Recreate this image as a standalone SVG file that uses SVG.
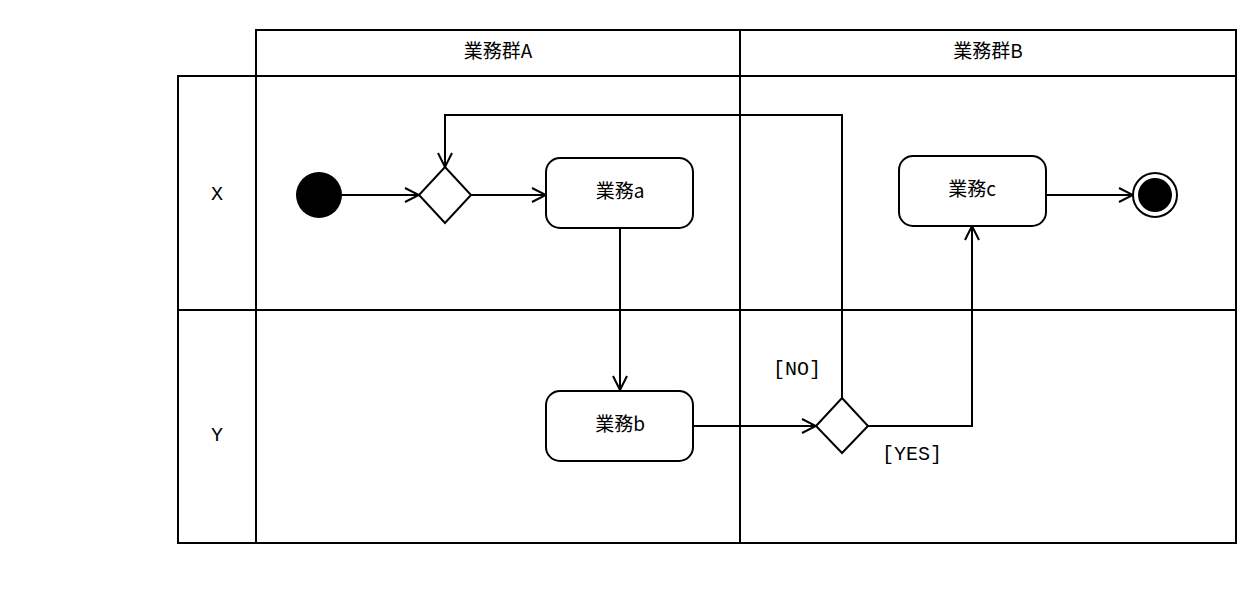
<svg xmlns="http://www.w3.org/2000/svg" width="1248" height="610" viewBox="0 0 1248 610">
<style>
.l{stroke:#000;stroke-width:2;fill:none}
.n{stroke:#000;stroke-width:2;fill:#fff}
.t{font-family:"Noto Sans CJK JP","Liberation Sans",sans-serif;font-size:19px;text-anchor:middle;dominant-baseline:middle;fill:#000}
.m{font-family:"Liberation Mono",monospace;font-size:20px;text-anchor:middle;dominant-baseline:middle;fill:#000}
</style>
<defs><marker id="a" markerWidth="16" markerHeight="16" refX="15" refY="8" orient="auto" markerUnits="userSpaceOnUse"><path d="M1,1 L15,8 L1,15" fill="none" stroke="#000" stroke-width="2"/></marker></defs>
<rect width="1248" height="610" fill="#fff"/>
<g id="frame">
<rect x="256" y="30" width="980" height="46" class="l"/>
<rect x="178" y="76" width="1058" height="467" class="l"/>
<line x1="256" y1="76" x2="256" y2="543" class="l"/>
<line x1="740" y1="30" x2="740" y2="543" class="l"/>
<line x1="178" y1="310" x2="1236" y2="310" class="l"/>
<text x="498" y="53" class="t">業務群A</text>
<text x="988" y="53" class="t">業務群B</text>
<text x="217" y="195" class="m">X</text>
<text x="217" y="436" class="m">Y</text>
</g>
<g id="connectors">
<line x1="342" y1="195" x2="419" y2="195" class="l" marker-end="url(#a)"/>
<line x1="471" y1="195" x2="546" y2="195" class="l" marker-end="url(#a)"/>
<line x1="620" y1="228" x2="620" y2="390" class="l" marker-end="url(#a)"/>
<line x1="693" y1="426" x2="816" y2="426" class="l" marker-end="url(#a)"/>
<polyline points="842,398 842,115 445,115 445,167" class="l" marker-end="url(#a)"/>
<polyline points="868,426 972,426 972,226" class="l" marker-end="url(#a)"/>
<line x1="1046" y1="195" x2="1133" y2="195" class="l" marker-end="url(#a)"/>
<text x="797" y="370" class="m">[NO]</text>
<text x="912" y="455" class="m">[YES]</text>
</g>
<g id="start"><circle cx="319" cy="195" r="23" fill="#000"/></g>
<g id="d1"><polygon points="445,167 471,195 445,223 419,195" class="n"/></g>
<g id="a1"><rect x="546" y="158" width="147" height="70" rx="14" class="n"/><text x="620" y="193" class="t">業務a</text></g>
<g id="b1"><rect x="546" y="391" width="147" height="70" rx="14" class="n"/><text x="620" y="426" class="t">業務b</text></g>
<g id="d2"><polygon points="842,398 868,426 842,453 816,426" class="n"/></g>
<g id="c1"><rect x="899" y="156" width="147" height="70" rx="14" class="n"/><text x="972" y="191" class="t">業務c</text></g>
<g id="end"><circle cx="1155" cy="195" r="22" class="n"/><circle cx="1155" cy="195" r="17" fill="#000"/></g>
</svg>
